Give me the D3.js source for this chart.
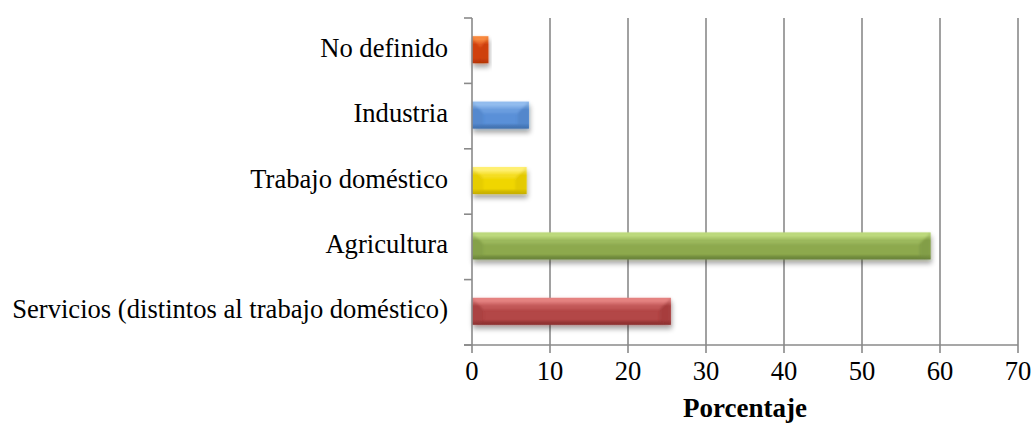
<!DOCTYPE html>
<html><head><meta charset="utf-8">
<script src="https://cdn.jsdelivr.net/npm/d3@7"></script>
<style>body{margin:0;background:#fff}svg{display:block}</style>
</head><body><svg id="c" width="1034" height="425"></svg>
<script>
const categories = ["No definido","Industria","Trabajo doméstico","Agricultura","Servicios (distintos al trabajo doméstico)"];
const values = [2.1, 7.3, 7.0, 58.8, 25.5];
const xTicks = [0,10,20,30,40,50,60,70];
const axisTitle = "Porcentaje";
const barColors = [
  {light:"#F8893F", main:"#D94412", dark:"#B53508"},
  {light:"#92BCEE", main:"#5A90D8", dark:"#3F6FAE"},
  {light:"#FFF070", main:"#F0D600", dark:"#C6AE00"},
  {light:"#BCD97C", main:"#8DA94E", dark:"#6A833A"},
  {light:"#E48280", main:"#B34646", dark:"#8C3030"}
];
const FONT = "'Liberation Serif', Tinos, 'Times New Roman', Times, 'DejaVu Serif', serif";

const svg = d3.select("#c");
const L = 472, R = 1018, T = 18, B = 345;
const x = d3.scaleLinear().domain([0,70]).range([L,R]);
const y = d3.scaleBand().domain(categories).range([T,B]).paddingInner(0.6).paddingOuter(0.3);
const yTickScale = d3.scaleBand().domain(categories).range([T,B]).padding(0);
const grey = "#8a8a8a";

const defs = svg.append("defs");
const f = defs.append("filter").attr("id","sh").attr("x","-20%").attr("y","-40%").attr("width","140%").attr("height","200%");
f.append("feGaussianBlur").attr("in","SourceAlpha").attr("stdDeviation",2.5).attr("result","b");
f.append("feOffset").attr("in","b").attr("dx",1).attr("dy",4).attr("result","o");
f.append("feComponentTransfer").attr("in","o").attr("result","o2").append("feFuncA").attr("type","linear").attr("slope",0.35);
const m = f.append("feMerge"); m.append("feMergeNode").attr("in","o2"); m.append("feMergeNode").attr("in","SourceGraphic");
const sf = defs.append("filter").attr("id","soft");
sf.append("feGaussianBlur").attr("stdDeviation",0.8);

barColors.forEach((c,i)=>{
  const g = defs.append("linearGradient").attr("id","g"+i).attr("x1",0).attr("x2",0).attr("y1",0).attr("y2",1);
  [[0,c.light],[0.12,c.light],[0.3,c.main],[0.8,c.main],[1,c.dark]].forEach(s=>g.append("stop").attr("offset",s[0]).attr("stop-color",s[1]));
});

// gridlines
svg.append("g").selectAll("line").data(xTicks.filter(t=>t>0)).join("line")
  .attr("x1",d=>x(d)).attr("x2",d=>x(d)).attr("y1",T).attr("y2",B)
  .attr("stroke",grey).attr("stroke-width",1.6);

// bars
const bars = svg.append("g").selectAll("g").data(categories).join("g").attr("filter","url(#sh)");
bars.each(function(d,i){
  const g = d3.select(this);
  const x0 = x(0), x1 = x(values[i]);
  const bw = y.bandwidth();
  const y0 = y(d) + bw/2 - 1 - 13.5, y1 = y0 + 27;
  const h = y1 - y0, w = x1 - x0;
  const c = barColors[i];
  const bs = Math.min(h*0.42, w/2), bt = h*0.42, bb = h*0.12;
  g.append("rect").attr("x",x0).attr("y",y0).attr("width",w).attr("height",h).attr("fill","url(#g"+i+")");
  const P = pts => pts.map(p=>p.join(",")).join(" ");
  const inner = g.append("g").attr("filter","url(#soft)");
  inner.append("polygon").attr("points",P([[x0,y0],[x1,y0],[x1-bs,y0+bt],[x0+bs,y0+bt]])).attr("fill",c.light).attr("opacity",0.3);
  inner.append("polygon").attr("points",P([[x0,y0],[x0+bs,y0+bt],[x0+bs,y1-bb],[x0,y1]])).attr("fill",c.dark).attr("opacity",0.22);
  inner.append("polygon").attr("points",P([[x1,y0],[x1-bs,y0+bt],[x1-bs,y1-bb],[x1,y1]])).attr("fill",c.dark).attr("opacity",0.3);
  inner.append("polygon").attr("points",P([[x0,y1],[x0+bs,y1-bb],[x1-bs,y1-bb],[x1,y1]])).attr("fill",c.dark).attr("opacity",0.5);
});

// left axis
svg.append("line").attr("x1",L).attr("x2",L).attr("y1",T).attr("y2",B).attr("stroke",grey).attr("stroke-width",1.6);
const catTicks = [T].concat(categories.map(c=>yTickScale(c)+yTickScale.bandwidth()));
svg.append("g").selectAll("line").data(catTicks).join("line")
  .attr("x1",L-8).attr("x2",L).attr("y1",d=>d).attr("y2",d=>d).attr("stroke",grey).attr("stroke-width",1.6);
svg.append("g").selectAll("text").data(categories).join("text")
  .attr("x",448).attr("y",d=>yTickScale(d)+yTickScale.bandwidth()/2+6)
  .attr("text-anchor","end").attr("font-family",FONT).attr("font-size",26.6).attr("fill","#000").text(d=>d);

// bottom axis
svg.append("line").attr("x1",L-8).attr("x2",R).attr("y1",B).attr("y2",B).attr("stroke",grey).attr("stroke-width",1.6);
svg.append("g").selectAll("line").data(xTicks).join("line")
  .attr("x1",d=>x(d)).attr("x2",d=>x(d)).attr("y1",B).attr("y2",B+8).attr("stroke",grey).attr("stroke-width",1.6);
svg.append("g").selectAll("text").data(xTicks).join("text")
  .attr("x",d=>x(d)).attr("y",380).attr("text-anchor","middle").attr("font-family",FONT).attr("font-size",26.6).attr("fill","#000").text(d=>d);
svg.append("text").attr("x",(L+R)/2).attr("y",417).attr("text-anchor","middle").attr("font-family",FONT).attr("font-size",27)
  .attr("font-weight","bold").attr("fill","#000").text(axisTitle);
</script></body></html>
